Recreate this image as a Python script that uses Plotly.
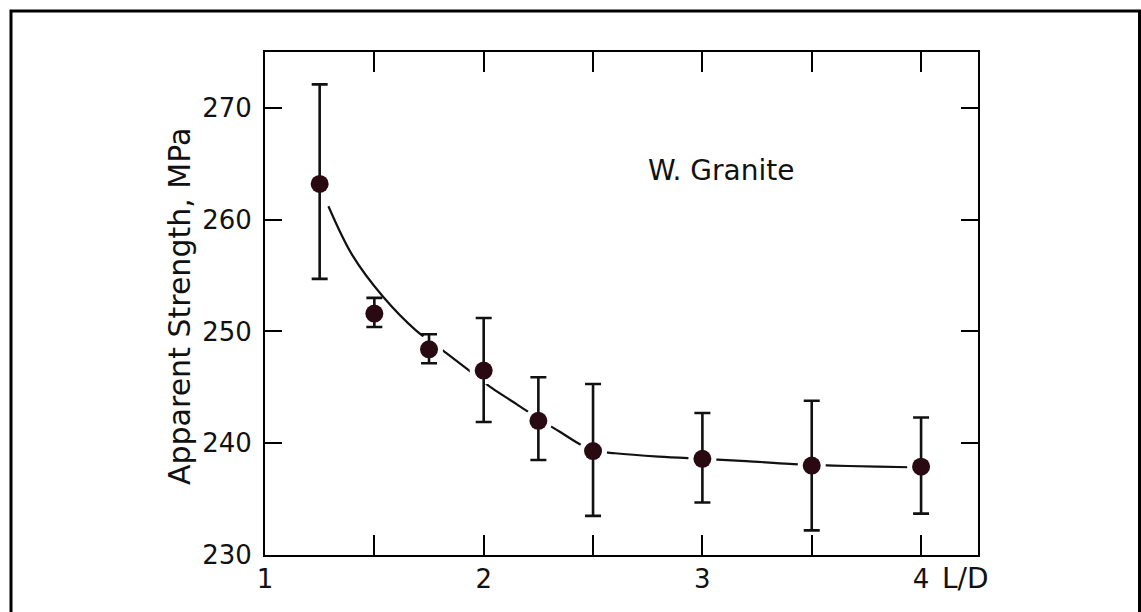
import plotly.graph_objects as go

# ---- data ----
ld_ratio = [1.25, 1.5, 1.75, 2.0, 2.25, 2.5, 3.0, 3.5, 4.0]
strength = [263.2, 251.6, 248.4, 246.5, 242.0, 239.3, 238.6, 238.0, 237.9]
err_plus = [8.9, 1.4, 1.35, 4.7, 3.9, 6.0, 4.1, 5.8, 4.4]
err_minus = [8.5, 1.2, 1.25, 4.6, 3.5, 5.8, 3.9, 5.8, 4.2]

fit_x = [1.29, 1.4, 1.54, 1.69, 1.82, 1.94, 2.04, 2.15, 2.25, 2.35, 2.45, 2.52,
         2.6, 2.8, 3.0, 3.2, 3.4, 3.6, 3.8, 3.95]
fit_y = [261.2, 256.8, 253.1, 250.1, 248.2, 246.4, 244.9, 243.5, 242.2, 241.0,
         239.8, 239.3, 239.1, 238.8, 238.6, 238.4, 238.15, 238.0, 237.9, 237.85]

x_tickvals = [1, 1.5, 2, 2.5, 3, 3.5, 4]
x_ticktext = ["1", "", "2", "", "3", "", "4"]
y_tickvals = [230, 240, 250, 260, 270]
y_ticktext = ["230", "240", "250", "260", "270"]

FONT = "DejaVu Sans, Arial, Helvetica, sans-serif"
W, H = 1141, 612
L, R, T, B = 265, 978, 52, 555  # plot area in page pixels
pw, ph = R - L, B - T

def px_x(p):
    return (p - L) / pw

def px_y(p):
    return (B - p) / ph

fig = go.Figure()

# fitted curve
fig.add_trace(go.Scatter(
    x=fit_x, y=fit_y, mode="lines", line=dict(color="#111111", width=2.2, shape="spline"),
    hoverinfo="skip", showlegend=False))

# white halo to break the curve around markers
fig.add_trace(go.Scatter(
    x=ld_ratio, y=strength, mode="markers",
    marker=dict(size=28, color="white", line=dict(width=0)),
    hoverinfo="skip", showlegend=False))

# data points with error bars
fig.add_trace(go.Scatter(
    x=ld_ratio, y=strength, mode="markers",
    marker=dict(size=18, color="#2a0a12", line=dict(width=0)),
    error_y=dict(type="data", symmetric=False, array=err_plus, arrayminus=err_minus,
                 color="#111111", thickness=2.6, width=8),
    showlegend=False))

axis_common = dict(showline=True, linecolor="black", linewidth=2, mirror="ticks",
                   ticks="inside", tickcolor="black", tickwidth=2,
                   showgrid=False, zeroline=False,
                   tickfont=dict(family=FONT, size=26, color="#111111"))

fig.update_xaxes(range=[1, 4 + (978 - 921) / 219], tickmode="array",
                 tickvals=x_tickvals, ticktext=x_ticktext, ticklen=20, **axis_common)
fig.update_yaxes(range=[230, 275], tickmode="array",
                 tickvals=y_tickvals, ticktext=y_ticktext, ticklen=17,
                 ticklabelstandoff=6, **axis_common)

fig.update_layout(
    width=W, height=H,
    margin=dict(l=L, r=W - R, t=T, b=H - B, pad=0),
    paper_bgcolor="white", plot_bgcolor="white",
    font=dict(family=FONT, color="#111111"),
    annotations=[
        dict(text="Apparent Strength, MPa", textangle=-90, xref="paper", yref="paper",
             x=px_x(179), y=px_y(307), xanchor="center", yanchor="middle",
             showarrow=False, font=dict(family=FONT, size=30, color="#111111")),
        dict(text="W. Granite", xref="paper", yref="paper",
             x=px_x(721), y=px_y(170), xanchor="center", yanchor="middle",
             showarrow=False, font=dict(family=FONT, size=28, color="#111111")),
        dict(text="L/D", xref="paper", yref="paper",
             x=px_x(965), y=px_y(578), xanchor="center", yanchor="middle",
             showarrow=False, font=dict(family=FONT, size=28, color="#111111")),
    ],
    shapes=[
        dict(type="rect", xref="paper", yref="paper",
             x0=px_x(11), x1=px_x(1139.5), y0=px_y(660), y1=px_y(11),
             line=dict(color="black", width=3), fillcolor="rgba(0,0,0,0)", layer="above"),
    ],
)

fig.write_html(
    "out.html",
    config={"displayModeBar": False},
    post_script="document.body.style.margin='0';document.body.style.overflow='hidden';",
)
